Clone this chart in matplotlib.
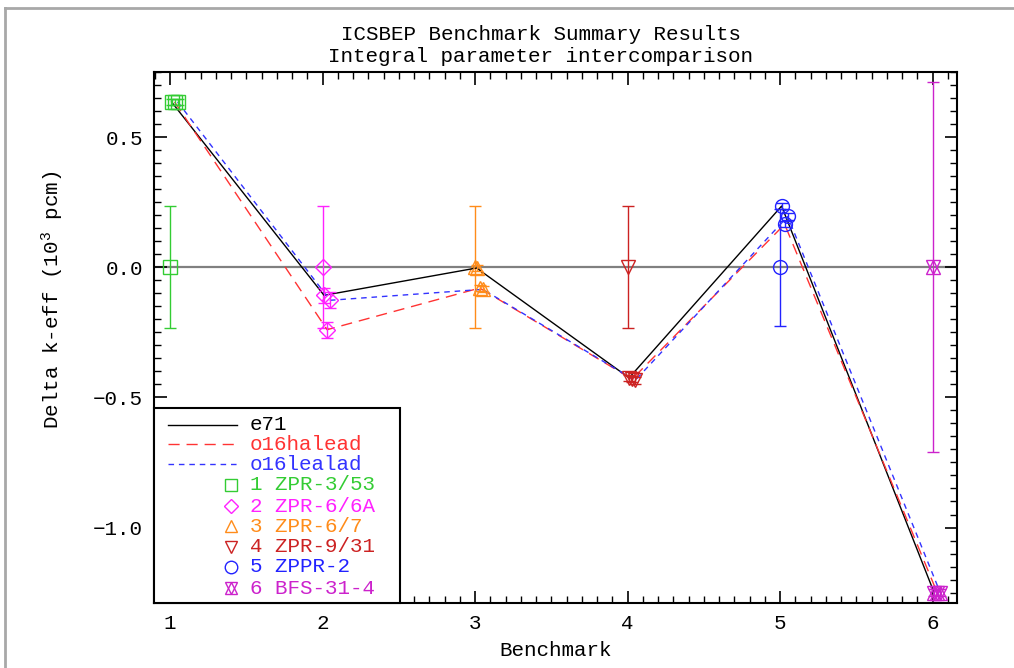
import matplotlib
matplotlib.use('Agg')
import matplotlib.pyplot as plt
from matplotlib.lines import Line2D
from matplotlib.patches import Rectangle
from matplotlib.ticker import MultipleLocator, FuncFormatter

plt.rcParams['font.family'] = ['Liberation Mono', 'DejaVu Sans']
plt.rcParams['mathtext.default'] = 'regular'

# benchmarks
bench = [1, 2, 3, 4, 5, 6]
bench_names = ['1 ZPR-3/53', '2 ZPR-6/6A', '3 ZPR-6/7', '4 ZPR-9/31', '5 ZPPR-2', '6 BFS-31-4']
bench_colors = ['#33cc33', '#ff22ff', '#ff8c1a', '#cc2222', '#2222ff', '#cc22cc']
bench_markers = ['s', 'D', '^', 'v', 'o', 'hg']

# experiment (reference = 0) with uncertainty
exp_val = [0.0, 0.0, 0.0, 0.0, 0.0, 0.0]
exp_err = [0.235, 0.235, 0.235, 0.235, 0.225, 0.71]

# calculated C-E per library (10^3 pcm)
e71 = [0.635, -0.108, -0.003, -0.425, 0.235, -1.25]
o16halead = [0.635, -0.24, -0.08, -0.43, 0.165, -1.25]
o16lealad = [0.635, -0.127, -0.085, -0.435, 0.195, -1.25]
calc_err = [0.012, 0.03, 0.012, 0.012, 0.012, 0.012]

libs = ['e71', 'o16halead', 'o16lealad']
lib_vals = [e71, o16halead, o16lealad]
lib_colors = ['black', '#ff3333', '#3333ff']
lib_dash = [None, (8, 5), (4, 3.5)]
lib_shift = [0.01, 0.03, 0.05]

W, H = 1014, 668
fig = plt.figure(figsize=(W / 100, H / 100), dpi=100)
ax = fig.add_axes([154 / W, 1 - 603 / H, (957 - 154) / W, (603 - 72) / H])

ax.axhline(0, color='#808080', lw=1.6, zorder=1)


def draw_marker(x, y, i, ms=10, **kw):
    m = bench_markers[i]
    if m == 'hg':
        ax.plot(x, y, ls='none', marker='^', ms=ms, mfc='none', mec=bench_colors[i], mew=1, **kw)
        ax.plot(x, y, ls='none', marker='v', ms=ms, mfc='none', mec=bench_colors[i], mew=1, **kw)
    else:
        s = ms * 0.8 if m == 'D' else ms
        ax.plot(x, y, ls='none', marker=m, ms=s, mfc='none', mec=bench_colors[i], mew=1, **kw)


# experiment points with error bars
for i, b in enumerate(bench):
    ax.errorbar(b, exp_val[i], yerr=exp_err[i], color=bench_colors[i], lw=1,
                capsize=4, capthick=1, ls='none', zorder=2)
    draw_marker(b, exp_val[i], i, zorder=3)

# library lines + points
for k, vals in enumerate(lib_vals):
    xs = [b + lib_shift[k] for b in bench]
    ln, = ax.plot(xs, vals, color=lib_colors[k], lw=1, zorder=4)
    if lib_dash[k] is not None:
        ln.set_dashes(lib_dash[k])
    for i in range(len(bench)):
        ax.errorbar(xs[i], vals[i], yerr=calc_err[i], color=bench_colors[i], lw=1,
                    capsize=4, capthick=1, ls='none', zorder=5)
        draw_marker(xs[i], vals[i], i, zorder=6)

ax.set_xlim(0.895, 6.16)
ax.set_ylim(-1.29, 0.75)
ax.xaxis.set_major_locator(MultipleLocator(1))
ax.xaxis.set_minor_locator(MultipleLocator(0.1))
ax.yaxis.set_major_locator(MultipleLocator(0.5))
ax.yaxis.set_minor_locator(MultipleLocator(0.05))
ax.yaxis.set_major_formatter(FuncFormatter(lambda v, p: ('%.1f' % v).replace('-', '\u2212')))
ax.tick_params(which='both', direction='in', top=True, right=True, labelsize=15, pad=8)
ax.tick_params(which='major', length=9, width=1.2)
ax.tick_params(which='minor', length=5, width=1)
for s in ax.spines.values():
    s.set_linewidth(1.5)

ax.set_xlabel('Benchmark', fontsize=15, labelpad=6)
fig.text(53 / W, 1 - 300 / H, 'Delta k-eff (10$^3$ pcm)', rotation=90,
         ha='center', va='center', fontsize=15)
fig.text(541 / W, 1 - 35 / H, 'ICSBEP Benchmark Summary Results', ha='center', va='center', fontsize=15)
fig.text(541 / W, 1 - 57 / H, 'Integral parameter intercomparison', ha='center', va='center', fontsize=15)

# legend drawn by hand (markers at right end of the handle)
def fx(px):
    return px / W


def fy(py):
    return 1 - py / H


fig.patches.append(Rectangle((fx(154), fy(603)), fx(400) - fx(154), fy(408) - fy(603),
                             transform=fig.transFigure, fill=True, fc='white', ec='black',
                             lw=1.5, zorder=10))
rows = [425, 444, 464, 485, 506, 526, 547, 567, 588]
for k in range(3):
    l = Line2D([fx(168), fx(237)], [fy(rows[k])] * 2, transform=fig.transFigure,
               color=lib_colors[k], lw=1, zorder=11)
    if lib_dash[k] is not None:
        l.set_dashes(lib_dash[k])
    fig.lines.append(l)
    fig.text(fx(250), fy(rows[k]), libs[k], color=lib_colors[k], fontsize=15,
             va='center', ha='left', zorder=11)
for i in range(len(bench)):
    r = rows[3 + i]
    m = bench_markers[i]
    for mm in (['^', 'v'] if m == 'hg' else [m]):
        s = 7 if mm == 'D' else 9
        fig.lines.append(Line2D([fx(231)], [fy(r)], transform=fig.transFigure, ls='none',
                                marker=mm, ms=s, mfc='none', mec=bench_colors[i], mew=1, zorder=11))
    fig.text(fx(250), fy(r), bench_names[i], color=bench_colors[i], fontsize=15,
             va='center', ha='left', zorder=11)

# page frame
fig.lines.append(Line2D([fx(5), 1], [fy(8), fy(8)], transform=fig.transFigure, color='#a8a8a8', lw=2))
fig.lines.append(Line2D([fx(5), fx(5)], [0, fy(8)], transform=fig.transFigure, color='#a8a8a8', lw=2))

fig.savefig('out.png', dpi=100)
